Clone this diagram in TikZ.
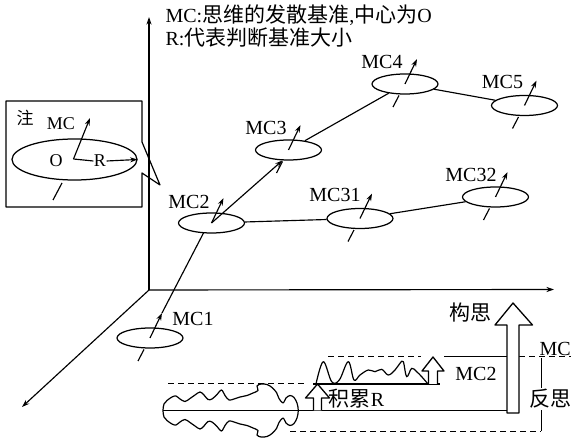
\documentclass[tikz,border=0pt]{standalone}
\usepackage{fontspec}
\setmainfont{Liberation Serif}
\newfontfamily\cjk{Noto Sans CJK SC}
\usetikzlibrary{arrows.meta,calc,shapes.geometric}
\newcommand\zhtext[1]{{\cjk\fontsize{21}{24}\selectfont #1}}
\begin{document}
\begin{tikzpicture}[x=1pt,y=-1pt,line join=round,line width=1.15pt,
  arr/.style={-{Stealth[length=7.5pt,width=5pt]}},
  ell/.style={draw,ellipse,minimum width=66pt,minimum height=20pt,inner sep=0pt,line width=1.25pt},
  lbl/.style={font=\fontsize{20}{22}\selectfont,inner sep=0pt},
  notelbl/.style={font=\fontsize{18}{20}\selectfont,inner sep=0pt},
  dsh/.style={dash pattern=on 6pt off 4pt,line width=1pt},
  thin1/.style={line width=1pt},
  thick2/.style={line width=1.7pt},
  hollow/.style={draw,fill=white,line width=1.3pt}]
\useasboundingbox (0,0) rectangle (571,438);

% axes
\coordinate (origin) at (149,290);
\coordinate (ytip) at (149,17);
\coordinate (xtip) at (554,289.5);
\coordinate (ztip) at (22,407);
\draw[arr] (origin) -- (ytip);
\draw[arr] (origin) -- (xtip);
\draw[arr] (origin) -- (ztip);

% top legend text
\node[lbl,anchor=west] (leg1) at (165,15) {MC:\zhtext{思维的发散基准},\zhtext{中心为}O};
\node[lbl,anchor=west] (leg2) at (165,37.5) {R:\zhtext{代表判断基准大小}};

% note callout
\draw[line width=1.2pt] (6,101) -- (142,101) -- (142,142) -- (160,185) -- (142,173) -- (142,207) -- (6,207) -- cycle;
\node[inner sep=0pt,font=\cjk\fontsize{17}{19}\selectfont] (zhu) at (25,118) {注};
\node[notelbl] (notemc) at (61,124) {MC};
\node[ell,minimum width=125pt,minimum height=41pt] (noteell) at (74.5,159.5) {};
\coordinate (o) at (73.5,159);
\node[notelbl] (olbl) at (56,161) {O};
\node[notelbl] (rlbl) at (100,161) {R};
\draw[arr] (o) -- (90,118);
\draw (o) -- (rlbl.west);
\draw[arr] (rlbl.east) -- (noteell.east);
\draw (62,183) -- (53,200);

% MC nodes
\node[ell] (mc1) at (150,338) {};
\node[ell] (mc2) at (211.5,223) {};
\node[ell] (mc3) at (288.5,150) {};
\node[ell] (mc4) at (405,84) {};
\node[ell] (mc5) at (524.5,105.5) {};
\node[ell] (mc31) at (360,218.5) {};
\node[ell] (mc32) at (495.5,197) {};

\node[lbl] (l1) at (193,319) {MC1};
\node[lbl] (l2) at (189,201.5) {MC2};
\node[lbl] (l3) at (266,128) {MC3};
\node[lbl] (l4) at (382,61.5) {MC4};
\node[lbl] (l5) at (502.5,81.5) {MC5};
\node[lbl] (l31) at (335,195) {MC31};
\node[lbl] (l32) at (471,175) {MC32};

\foreach \n in {mc1,mc2,mc3,mc4,mc5,mc31,mc32}
  \draw[arr] (\n.center) -- ++(12,-25);
\foreach \n in {mc1,mc3,mc4,mc5,mc31,mc32}
  \draw ($(\n.center)+(-6,11.5)$) -- ++(-6,11.5);

% connectors
\draw ($(mc1.center)+(12,-25)$) -- ($(mc2.center)+(-8,10)$);
\draw[arr] (mc2.center) -- (mc3.-120);
\draw (mc3) -- (mc4);
\draw (mc4) -- (mc5);
\draw (mc2) -- (mc31);
\draw (mc31) -- (mc32);

% bottom right scheme
\draw[dsh] (168,384) -- (305,384);
\draw[dsh] (290,431.5) -- (541,431.5);
\draw[dsh] (328,357) -- (421,357);
\draw[thin1] (444,357) -- (507,357);
\draw[dsh] (519,357) -- (571,357);
\draw[thin1] (541,358) -- (541,431.5);

% flame shape
\draw[line width=1.2pt] plot[smooth cycle,tension=0.55] coordinates {
 (163,410.5) (164,404) (167,400.5) (172,397) (176,396) (180,399) (185,401.5) (190,398.5)
 (195,395) (200,392) (204,395) (208,399.5) (212,399) (217,394.5) (221.5,390) (225,395.5)
 (229,400) (234,399) (240,397) (247,395.5) (253,393) (258,390.5) (257,386) (261,384)
 (267,384.5) (272,387.5) (276.5,392.5) (279,398.5) (283,403) (286,398) (290,395.5) (294,397.5)
 (297,403) (298.3,410.5)
 (297,418) (294,423.5) (290,425.5) (286,423) (283,418) (279,422.5) (276.5,428.5) (272,433.5)
 (267,436.5) (261,437) (257,435) (258,430.5) (253,428) (247,425.5) (240,424) (234,422)
 (229,421) (225,425.5) (221.5,431) (217,426.5) (212,422) (208,421.5) (204,426) (200,429)
 (195,426) (190,422.5) (185,419.5) (180,422) (176,425) (172,424) (167,420.5) (164,417)};

% step lines
\draw[thick2] (163,410.5) -- (507,410.5);
\draw[line width=1.5pt] (313,384) -- (440,384);
% wave above step
\draw[line width=1.2pt] plot[smooth,tension=0.6] coordinates {
 (316,384) (323.3,361.7) (331.7,381.7) (339.3,380) (348.3,361.7) (354,380) (360,375)
 (368.3,370) (375,371.7) (381.7,369.3) (388.3,375) (395,370) (400,363.3) (403.3,361.7)
 (406.7,376.7) (411.7,368.3) (416.7,371.7) (421.7,376.7) (428,384)};

% hollow arrows
\draw[hollow] (313.5,410.5) -- (313.5,398) -- (305.5,398) -- (317.5,384) -- (329.5,398) -- (321.5,398) -- (321.5,410.5);
\draw[hollow] (428.5,384) -- (428.5,371) -- (422,371) -- (433,357) -- (444,371) -- (437.5,371) -- (437.5,384);
\draw[hollow] (507,413) -- (507,325) -- (495,325) -- (513,303) -- (532.5,325) -- (519,325) -- (519,413) -- cycle;

% bottom labels
\node[inner sep=0pt] (jilei) at (356.5,399) {\zhtext{积累}\fontsize{20}{22}\selectfont R};
\node[lbl] (mc2b) at (476,374) {MC2};
\node[inner sep=0pt] (gousi) at (470.5,313) {\zhtext{构思}};
\node[inner sep=1pt,fill=white] (fansi) at (550,399) {\zhtext{反思}};
\node[lbl,anchor=west] (mcr) at (539,349) {MC};
\end{tikzpicture}
\end{document}
